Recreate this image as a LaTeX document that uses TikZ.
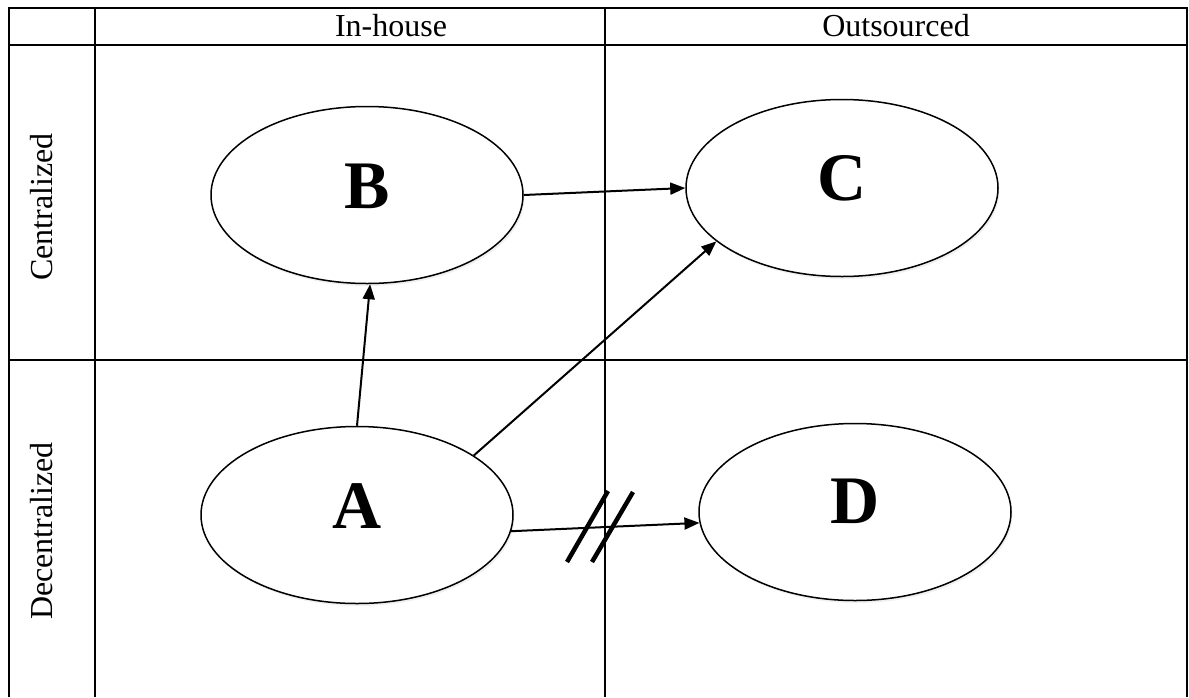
\documentclass[tikz,border=0pt]{standalone}
\usepackage{fontspec}
\setmainfont{Liberation Serif}
\usetikzlibrary{shapes.geometric,arrows.meta,shadows}
\tikzset{
  grid/.style={line width=2.2pt},
  oval/.style={ellipse, draw, line width=1.5pt, minimum width=312pt, minimum height=177pt, inner sep=0pt, fill=white,
    drop shadow={opacity=0.12, shadow xshift=1.5pt, shadow yshift=-2.5pt}},
  letter/.style={font=\fontsize{68}{68}\selectfont\bfseries, inner sep=0pt},
  head/.style={font=\fontsize{32}{32}\selectfont, inner sep=0pt},
  conn/.style={line width=2pt, -{Triangle[length=15pt,width=12pt]}},
  hash/.style={line width=4.5pt}
}
\begin{document}
\begin{tikzpicture}[x=1pt,y=-1pt]
\useasboundingbox (0,0) rectangle (1189,697);
% grid
\draw[grid] (9,697) -- (9,8) -- (1187,8) -- (1187,697);
\draw[grid] (9,45) -- (1187,45);
\draw[grid] (9,360) -- (1187,360);
\draw[grid] (95,8) -- (95,697);
\draw[grid] (605,8) -- (605,697);
% headers
\node[head] (hin) at (391,26) {In-house};
\node[head] (hout) at (896,26) {Outsourced};
\node[head, rotate=90] (hcen) at (42,207) {Centralized};
\node[head, rotate=90] (hdec) at (42,531) {Decentralized};
% ellipses
\node[oval] (B) at (367,195) {};
\node[oval] (C) at (842,188) {};
\node[oval] (A) at (357,515) {};
\node[oval] (D) at (855,512) {};
% letters
\node[letter] (bl) at (367,186) {B};
\node[letter] (cl) at (842,178) {C};
\node[letter] (al) at (357,506) {A};
\node[letter] (dl) at (855,501) {D};
% connectors
\draw[conn] (A.90) -- (B.-88);
\draw[conn] (B.east) -- (C.west);
\draw[conn] (A.27) -- (C.203);
\draw[conn] (A.-6) -- (D.184);
% break marks
\draw[hash] (567,562) -- (608,491);
\draw[hash] (592,562) -- (633,492);
\end{tikzpicture}
\end{document}
